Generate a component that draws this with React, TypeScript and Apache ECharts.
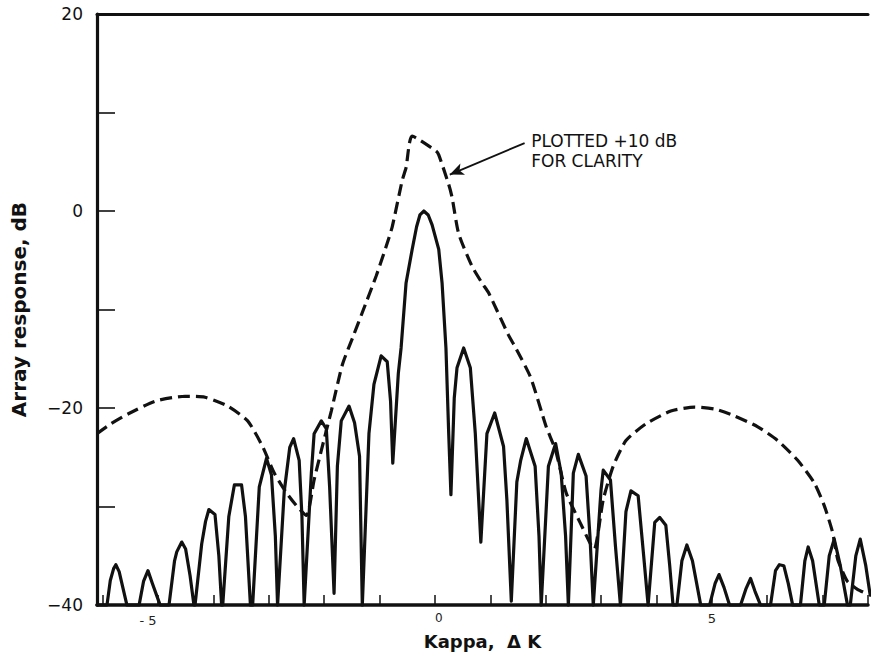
import React, { useEffect, useRef } from 'react';
import * as echarts from 'echarts';

// Solid curve: array response (dB) vs kappa
const solidKappa = [
  -6.10, -5.92, -5.86, -5.80, -5.76, -5.70, -5.63, -5.56,
  -5.34, -5.26, -5.18, -5.10, -4.96,
  -4.80, -4.70, -4.66, -4.57, -4.50, -4.42, -4.35,
  -4.33, -4.21, -4.14, -4.08, -3.97, -3.90, -3.85,
  -3.83, -3.72, -3.62, -3.49, -3.42, -3.33,
  -3.29, -3.17, -3.04, -2.95, -2.88, -2.84,
  -2.72, -2.62, -2.55, -2.45, -2.40, -2.36,
  -2.23, -2.18, -2.05, -1.96, -1.90, -1.82,
  -1.76, -1.69, -1.55, -1.45, -1.36, -1.31,
  -1.19, -1.10, -0.97, -0.86, -0.80, -0.76,
  -0.66, -0.61, -0.52, -0.41, -0.33, -0.27, -0.20, -0.12, -0.05, 0.07, 0.13, 0.20, 0.25, 0.29,
  0.35, 0.40, 0.52, 0.64, 0.73, 0.83,
  0.94, 1.08, 1.24, 1.30, 1.38,
  1.48, 1.55, 1.65, 1.81, 1.88, 1.92,
  2.05, 2.18, 2.28, 2.36, 2.41,
  2.50, 2.59, 2.73, 2.80, 2.86,
  3.00, 3.04, 3.17, 3.26, 3.35,
  3.45, 3.54, 3.67, 3.77, 3.85,
  3.97, 4.06, 4.17, 4.24, 4.30,
  4.37, 4.46, 4.55, 4.65, 4.80,
  4.96, 5.06, 5.13, 5.22, 5.32,
  5.52, 5.62, 5.70, 5.78, 5.88,
  6.06, 6.15, 6.22, 6.30, 6.38, 6.46,
  6.60, 6.68, 6.74, 6.82, 6.94,
  7.03, 7.12, 7.21, 7.32, 7.45,
  7.50, 7.60, 7.68, 7.78, 7.86,
];
const solidDb = [
  -40, -40, -37.5, -36.3, -35.9, -36.6, -38.3, -40,
  -40, -37.6, -36.5, -37.8, -40,
  -40, -35.5, -34.6, -33.6, -34.3, -37.0, -40,
  -40, -33.8, -31.5, -30.3, -30.8, -35.0, -40,
  -40, -31.0, -27.8, -27.8, -31.0, -40,
  -40, -28.0, -25.1, -26.8, -33.0, -40,
  -28.5, -24.0, -23.1, -25.3, -31.0, -40,
  -26.6, -22.6, -21.3, -22.1, -28.0, -38.8,
  -25.9, -21.3, -19.8, -21.5, -24.9, -40,
  -22.6, -17.6, -14.7, -15.3, -19.3, -25.6,
  -16.5, -13.9, -7.3, -3.9, -1.6, -0.4, 0, -0.4, -1.4, -3.9, -7.3, -13.9, -22.6, -28.8,
  -19.0, -15.9, -13.9, -15.9, -22.6, -33.6,
  -22.6, -20.5, -23.9, -29.3, -39.6,
  -27.5, -25.3, -23.1, -25.9, -33.0, -40,
  -25.9, -23.6, -26.6, -33.0, -40,
  -26.6, -24.7, -26.9, -33.0, -40,
  -28.3, -26.3, -27.3, -34.0, -40,
  -30.5, -28.4, -28.9, -35.0, -40,
  -31.6, -31.1, -31.9, -36.0, -40,
  -40, -35.5, -33.9, -35.5, -40,
  -40, -37.8, -36.9, -38.2, -40,
  -40, -38.3, -37.3, -38.6, -40,
  -40, -36.5, -35.9, -36.0, -37.8, -40,
  -40, -35.5, -34.1, -35.5, -40,
  -40, -35.0, -33.3, -36.0, -40,
  -40, -35.0, -33.3, -36.0, -39.0,
];

// Dashed curve (plotted +10 dB for clarity)
const dashedKappa = [
  -6.10, -5.85, -5.54, -5.05, -4.51, -4.15, -3.74, -3.38, -3.11, -2.90, -2.68, -2.50, -2.32,
  -2.18, -2.05, -1.87, -1.67, -1.46, -1.31, -1.06, -0.88, -0.77, -0.59, -0.52, -0.41,
  0.02, 0.07, 0.25, 0.31, 0.43, 0.67, 0.85, 0.97, 1.33, 1.46, 1.73, 2.01, 2.18, 2.37, 2.62, 2.82, 2.88,
  3.04, 3.22, 3.45, 3.81, 4.26, 4.69, 5.05, 5.41, 5.83, 6.19, 6.55, 6.85, 7.03, 7.18, 7.27, 7.36, 7.45, 7.63, 7.82,
];
const dashedDb = [
  -22.6, -21.6, -20.6, -19.3, -18.8, -18.9, -19.8, -21.3, -23.9, -26.6, -28.6, -29.9, -30.9,
  -27.3, -24.3, -20.3, -15.6, -12.5, -10.3, -6.6, -3.6, -1.6, 3.1, 4.4, 7.6,
  6.1, 5.7, 2.7, 1.4, -2.3, -5.6, -7.3, -8.3, -12.6, -13.9, -16.9, -21.9, -24.3, -28.6, -31.6, -33.9, -34.3,
  -29.3, -25.9, -23.3, -21.6, -20.3, -19.9, -20.1, -20.8, -21.9, -23.3, -25.3, -27.6, -29.9, -32.6, -35.3, -36.6, -37.6, -38.4, -38.9,
];

// Tick labels
const yLabelValues = [20, 0, -20, -40];
const yLabelTexts = ['20', '0', '\u221220', '\u221240'];
const xLabelValues = [-5, 0, 5];
const xLabelTexts = ['{m|- 5}', '{s|0}', '5'];

// Annotation
const annotationLines = ['PLOTTED +10 dB', 'FOR CLARITY'];
const arrowTail = [1.62, 6.9];
const arrowTip = [0.27, 3.7];
const annotationAnchor = [1.74, 8.1];

const FONT = "'DejaVu Sans', 'Liberation Sans', sans-serif";
const INK = '#111';

function findLabel(v: number, values: number[], texts: string[]) {
  for (let i = 0; i < values.length; i++) {
    if (Math.abs(v - values[i]) < 1e-6) return texts[i];
  }
  return '';
}

export default function App() {
  const ref = useRef<HTMLDivElement>(null);

  useEffect(() => {
    if (!ref.current) return;
    const chart = echarts.init(ref.current, undefined, { renderer: 'svg' });
    const solidData = solidKappa.map((k, i) => [k, solidDb[i]]);
    const dashedData = dashedKappa.map((k, i) => [k, dashedDb[i]]);

    const option: any = {
      animation: false,
      backgroundColor: '#ffffff',
      grid: { left: 97, right: 0, top: 14, bottom: 42, containLabel: false },
      xAxis: [
        {
          type: 'value',
          min: -6.1,
          max: 7.82,
          splitNumber: 14,
          position: 'bottom',
          name: 'Kappa,  \u0394 K',
          nameLocation: 'middle',
          nameGap: 20,
          nameTextStyle: { fontFamily: FONT, fontSize: 18, fontWeight: 'bold', color: INK },
          axisLine: { show: true, onZero: false, lineStyle: { color: INK, width: 3.5 } },
          axisTick: { show: true, inside: true, length: 10, lineStyle: { color: INK, width: 1.5 } },
          axisLabel: {
            show: true,
            margin: 7,
            fontFamily: FONT,
            fontSize: 13,
            color: '#222',
            formatter: (v: number) => findLabel(v, xLabelValues, xLabelTexts),
            rich: {
              s: { fontFamily: FONT, fontSize: 12, color: '#222', padding: [0, 0, 4, 8] },
              m: { fontFamily: FONT, fontSize: 13, color: '#222', padding: [2, 20, 0, 0] },
            },
          },
          splitLine: { show: false },
        },
        {
          type: 'value',
          min: -6.1,
          max: 7.82,
          position: 'top',
          axisLine: { show: true, onZero: false, lineStyle: { color: INK, width: 3 } },
          axisTick: { show: false },
          axisLabel: { show: false },
          splitLine: { show: false },
        },
      ],
      yAxis: {
        type: 'value',
        min: -40,
        max: 20,
        interval: 10,
        name: 'Array response, dB',
        nameLocation: 'middle',
        nameGap: 68,
        nameRotate: 90,
        nameTextStyle: { fontFamily: FONT, fontSize: 20, fontWeight: 'bold', color: INK },
        axisLine: { show: true, onZero: false, lineStyle: { color: INK, width: 3.2 } },
        axisTick: { show: true, inside: true, length: 18, lineStyle: { color: INK, width: 1.6 } },
        axisLabel: {
          margin: 14,
          fontFamily: FONT,
          fontSize: 17,
          color: INK,
          formatter: (v: number) => findLabel(v, yLabelValues, yLabelTexts),
        },
        splitLine: { show: false },
      },
      series: [
        {
          type: 'line',
          name: 'response',
          data: solidData,
          showSymbol: false,
          symbol: 'none',
          lineStyle: { color: INK, width: 3.2, join: 'round', cap: 'round' },
          z: 3,
        },
        {
          type: 'line',
          name: 'plotted +10 dB',
          data: dashedData,
          showSymbol: false,
          symbol: 'none',
          smooth: 0.2,
          lineStyle: { color: INK, width: 3.2, type: [12, 6] },
          z: 2,
          markLine: {
            silent: true,
            symbol: ['none', 'arrow'],
            symbolSize: [9, 14],
            label: { show: false },
            lineStyle: { color: INK, width: 1.8, type: 'solid' },
            data: [[{ coord: arrowTail }, { coord: arrowTip }]],
          },
        },
      ],
    };
    chart.setOption(option);

    const p = chart.convertToPixel({ xAxisIndex: 0, yAxisIndex: 0 }, annotationAnchor) as number[];
    chart.setOption({
      graphic: [
        {
          type: 'text',
          x: p[0],
          y: p[1],
          style: {
            text: annotationLines.join('\n'),
            fontFamily: FONT,
            fontSize: 17,
            lineHeight: 20,
            fill: INK,
            verticalAlign: 'top',
          },
        },
      ],
    });

    return () => chart.dispose();
  }, []);

  return (
    <div
      ref={ref}
      style={{ position: 'fixed', left: 0, top: 0, width: 871, height: 655, background: '#fff' }}
    />
  );
}
